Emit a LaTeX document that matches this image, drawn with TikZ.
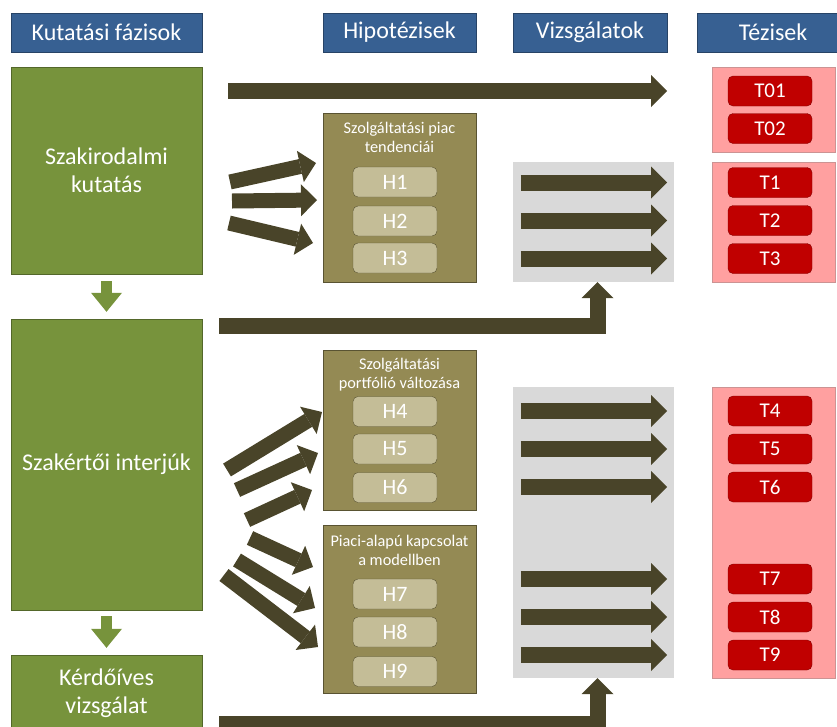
\documentclass[tikz,border=0pt]{standalone}
\usepackage{fontspec}
\setmainfont{Carlito}
\usetikzlibrary{arrows.meta,positioning}

\definecolor{hdrblue}{RGB}{55,96,146}
\definecolor{phasegreen}{RGB}{119,147,60}
\definecolor{arrowdark}{RGB}{73,68,41}
\definecolor{hypolive}{RGB}{148,138,84}
\definecolor{hyplight}{RGB}{196,189,151}
\definecolor{testgray}{RGB}{217,217,217}
\definecolor{thesispink}{RGB}{255,160,160}
\definecolor{thesisred}{RGB}{192,0,0}

\tikzset{
    header/.style={fill=hdrblue, draw=hdrblue!70!black, text=white, font=\fontsize{24}{26}\selectfont, minimum height=39pt, inner sep=0pt},
    phase/.style={fill=phasegreen, draw=phasegreen!70!black, text=white, font=\fontsize{24}{28}\selectfont, minimum width=191pt, align=center, inner sep=0pt},
    hypgroup/.style={fill=hypolive, draw=hypolive!60!black, minimum width=153pt, inner sep=0pt},
    grouptitle/.style={text=white, font=\fontsize{16.3}{19}\selectfont, align=center, inner sep=0pt},
    hyp/.style={fill=hyplight, draw=hypolive!60!black, rounded corners=5pt, text=white, font=\fontsize{22}{24}\selectfont, minimum width=84pt, minimum height=30pt, inner sep=0pt},
    testbox/.style={fill=testgray, minimum width=161pt, inner sep=0pt},
    thesisgroup/.style={fill=thesispink, draw=thesispink!60!gray, minimum width=123pt, inner sep=0pt},
    thesis/.style={fill=thesisred, draw=thesisred!70!black, rounded corners=5pt, text=white, font=\fontsize{21}{23}\selectfont, minimum width=84pt, minimum height=30pt, inner sep=0pt},
    blockarrow/.style={draw=arrowdark, line width=16pt, -{Triangle[length=16pt,width=32pt,line width=0pt]}},
    downarrow/.style={draw=phasegreen, line width=11pt, -{Triangle[length=19pt,width=31pt,line width=0pt]}}
}

\begin{document}
\begin{tikzpicture}[x=1pt, y=-1pt]
    \useasboundingbox (0,0) rectangle (837,726);

    \node[header, minimum width=191pt] (hKut) at (106.5,32.5) {Kutatási fázisok};
    \node[header, minimum width=153pt] (hHip) at (399.5,32.5) {Hipotézisek};
    \node[header, minimum width=154pt] (hVizs) at (590,32.5) {Vizsgálatok};
    \node[header, minimum width=152pt] (hTez) at (773,32.5) {Tézisek};

    \node[phase, minimum height=207pt] (szak) at (106.5,170.5) {Szakirodalmi\\kutatás};
    \node[phase, minimum height=291pt] (interj) at (106.5,464.5) {Szakértői interjúk};
    \node[phase, minimum height=76pt] (kerd) at (106.5,693) {Kérdőíves\\vizsgálat};
    \draw[downarrow] ([yshift=-7pt]szak.south) -- ([yshift=7pt]interj.north);
    \draw[downarrow] ([yshift=-6pt]interj.south) -- ([yshift=7pt]kerd.north);

    \node[hypgroup, minimum height=169pt] (hypA) at (399.5,197.5) {};
    \node[hypgroup, minimum height=160pt] (hypB) at (399.5,430) {};
    \node[hypgroup, minimum height=168pt] (hypC) at (399.5,609) {};
    \node[grouptitle] (hypAt) at ([yshift=-25pt]hypA.north) {Szolgáltatási piac\\tendenciái};
    \node[grouptitle] (hypBt) at ([yshift=-25pt]hypB.north) {Szolgáltatási\\portfólió változása};
    \node[grouptitle] (hypCt) at ([yshift=-26pt]hypC.north) {Piaci-alapú kapcsolat\\a modellben};
    \foreach \n/\y in {1/182,2/221,3/258,4/411.5,5/449,6/487.5,7/594,8/632,9/671.5} {
        \node[hyp] (h\n) at (395,\y) {H\n};
    }

    \node[testbox, minimum height=120pt] (vizsA) at (593.5,222) {};
    \node[testbox, minimum height=291pt] (vizsB) at (593.5,532.5) {};

    \node[thesisgroup, minimum height=85pt] (tezO) at (774,109.5) {};
    \node[thesisgroup, minimum height=120pt] (tezA) at (773.5,222) {};
    \node[thesisgroup, minimum height=291pt] (tezB) at (773.5,532.5) {};
    \foreach \n/\y in {01/91,02/128.5,1/182.5,2/220.5,3/258.5,4/411,5/449,6/487,7/579,8/617,9/655} {
        \node[thesis] (t\n) at (770,\y) {T\n};
    }

    \draw[blockarrow] ([xshift=26pt]szak.east |- t01) -- ([xshift=-7pt]vizsA.east |- t01);
    \foreach \n in {1,...,3} {
        \draw[blockarrow] ([xshift=8pt]vizsA.west |- t\n) -- ([xshift=-7pt]vizsA.east |- t\n);
    }
    \foreach \n in {4,...,9} {
        \draw[blockarrow] ([xshift=8pt]vizsB.west |- t\n) -- ([xshift=-7pt]vizsB.east |- t\n);
    }

    \foreach \n/\tx/\ty/\hx/\hy in {1/230/182/316/163, 2/232/201/317/200, 3/229/223/313/243,
            4/227/470/322/412, 5/237/490/318/453, 6/247/520/312/490,
            7/250/538/313/567, 8/237/560/315/608, 9/224/575/318/647} {
        \coordinate (ft\n) at (\tx,\ty);
        \coordinate (fh\n) at (\hx,\hy);
        \draw[blockarrow, line width=15pt] (ft\n) -- (fh\n);
    }

    \draw[blockarrow] ([xshift=17pt,yshift=-7pt]interj.north east) -| ([xshift=4pt]vizsA.south);
    \draw[blockarrow] ([xshift=17pt,yshift=-31pt]kerd.east) -| ([xshift=4pt]vizsB.south);
\end{tikzpicture}
\end{document}
